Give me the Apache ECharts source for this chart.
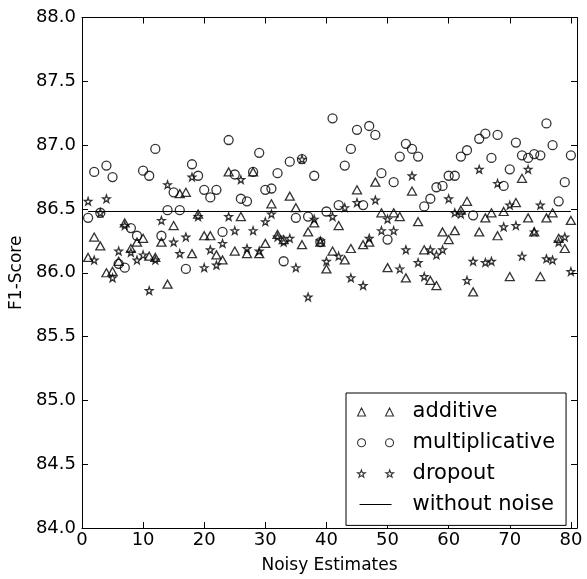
<!DOCTYPE html>
<html>
<head>
<meta charset="utf-8">
<script src="https://cdn.jsdelivr.net/npm/echarts@6/dist/echarts.min.js"></script>
<style>
html,body{margin:0;padding:0;background:#fff;}
#chart{width:587px;height:579px;}
</style>
</head>
<body>
<div id="chart"></div>
<script>
// Noisy estimate index runs 1..80
const additive = [
86.12,86.28,86.21,86.00,86.01,86.09,86.39,86.19,86.24,86.27,
86.13,86.12,86.24,85.91,86.37,86.62,86.63,86.15,86.46,86.29,
86.29,86.14,86.10,86.79,86.17,86.44,86.15,86.79,86.15,86.23,
86.54,86.30,86.26,86.60,86.51,86.22,86.32,86.39,86.24,86.03,
86.17,86.37,86.10,86.19,86.65,86.22,86.24,86.71,86.47,86.04,
86.47,86.44,85.96,86.64,86.40,86.18,85.94,85.90,86.32,86.26,
86.33,86.49,86.56,85.85,86.32,86.43,86.47,86.29,86.48,85.97,
86.55,86.74,86.43,86.32,85.97,86.43,86.47,86.27,86.19,86.41];
const multiplicative = [
86.43,86.79,86.47,86.84,86.75,86.07,86.04,86.35,86.29,86.80,
86.76,86.97,86.29,86.49,86.63,86.49,86.03,86.85,86.76,86.65,
86.59,86.65,86.32,87.04,86.77,86.58,86.56,86.79,86.94,86.65,
86.66,86.78,86.09,86.87,86.43,86.89,86.44,86.76,86.24,86.48,
87.21,86.53,86.84,86.97,87.12,86.53,87.15,87.08,86.78,86.26,
86.71,86.91,87.01,86.97,86.91,86.52,86.58,86.67,86.68,86.76,
86.76,86.91,86.96,86.45,87.05,87.09,86.90,87.08,86.68,86.81,
87.02,86.92,86.90,86.93,86.92,87.17,87.00,86.56,86.71,86.92];
const dropout = [
86.56,86.10,86.47,86.58,85.96,86.17,86.37,86.16,86.10,86.14,
85.86,86.10,86.41,86.69,86.24,86.15,86.28,86.75,86.44,86.04,
86.18,86.06,86.23,86.44,86.33,86.73,86.19,86.33,86.17,86.40,
86.46,86.28,86.24,86.27,86.04,86.89,85.81,86.42,86.25,86.09,
86.44,86.13,86.51,85.96,86.55,85.90,86.27,86.57,86.33,86.42,
86.33,86.03,86.18,86.76,86.08,85.97,86.18,86.14,86.18,86.58,
86.47,86.46,85.94,86.09,86.81,86.08,86.09,86.70,86.36,86.53,
86.37,86.13,86.81,86.32,86.53,86.11,86.10,86.24,86.28,86.01];
const withoutNoise = 86.48;
const seriesNames = ['additive','multiplicative','dropout','without noise'];
const xTicks = [0,10,20,30,40,50,60,70,80];
const yTicks = [84.0,84.5,85.0,85.5,86.0,86.5,87.0,87.5,88.0];

const toPts = arr => arr.map((v,i)=>[i+1, v]);
const FONT = 'DejaVu Sans';
const starPath = 'path://M50,0L61.8,33.8L97.6,34.5L69,56.2L79.4,90.5L50,70L20.6,90.5L31,56.2L2.4,34.5L38.2,33.8Z';
const legTri = 'path://M4,0L8,8L0,8Z M32,0L36,8L28,8Z';
const legCirc = 'path://M0,4a4,4 0 1,0 8,0a4,4 0 1,0 -8,0Z M28,4a4,4 0 1,0 8,0a4,4 0 1,0 -8,0Z';
const legStar = 'path://M4,0L4.94,2.7L7.81,2.76L5.52,4.5L6.35,7.24L4,5.6L1.65,7.24L2.48,4.5L0.19,2.76L3.06,2.7Z M32,0L32.94,2.7L35.81,2.76L33.52,4.5L34.35,7.24L32,5.6L29.65,7.24L30.48,4.5L28.19,2.76L31.06,2.7Z';
const legLine = 'path://M0,0L0.01,0L0,0.01Z M2,3.5L34,3.5L34,4.5L2,4.5Z M36,8L35.99,8L36,7.99Z';

const hollow = {color:'transparent', borderColor:'#000', borderWidth:1.3};
const axisCommon = {
  axisLine:{show:true, onZero:false, lineStyle:{color:'#000', width:1}},
  axisTick:{show:true, inside:true, length:6, lineStyle:{color:'#000', width:1}},
  splitLine:{show:false}
};
const xFmt = v => (xTicks.indexOf(v) >= 0 ? String(v) : '');
const yFmt = v => (yTicks.some(t => Math.abs(t - v) < 1e-9) ? v.toFixed(1) : '');

const chart = echarts.init(document.getElementById('chart'), null, {renderer:'canvas'});
chart.setOption({
  animation:false,
  backgroundColor:'#fff',
  textStyle:{fontFamily:FONT},
  grid:{left:80, right:10, top:17.5, bottom:43, containLabel:false},
  xAxis:[
    Object.assign({type:'value', min:0, max:81, interval:10, position:'bottom',
      name:'Noisy Estimates', nameLocation:'middle', nameGap:29,
      nameTextStyle:{fontFamily:FONT, fontSize:17, color:'#000'},
      axisLabel:{fontFamily:FONT, fontSize:18, color:'#000', margin:3, formatter:xFmt}}, axisCommon),
    Object.assign({type:'value', min:0, max:81, interval:10, position:'top',
      axisLabel:{show:false}}, axisCommon)
  ],
  yAxis:[
    Object.assign({type:'value', min:84, max:88, interval:0.5, position:'left',
      name:'F1-Score', nameLocation:'middle', nameGap:49,
      nameTextStyle:{fontFamily:FONT, fontSize:17, color:'#000'},
      axisLabel:{fontFamily:FONT, fontSize:18, color:'#000', margin:6, formatter:yFmt}}, axisCommon),
    Object.assign({type:'value', min:84, max:88, interval:0.5, position:'right',
      axisLabel:{show:false}}, axisCommon)
  ],
  legend:{
    orient:'vertical', left:346, top:393,
    padding:[8,11,10,11],
    itemWidth:36, itemHeight:8, itemGap:8.8,
    backgroundColor:'#fff', borderColor:'#000', borderWidth:1, borderRadius:0,
    textStyle:{fontFamily:FONT, fontSize:21, color:'#000', lineHeight:22, padding:[0,0,0,14]},
    data:[
      {name:seriesNames[0], icon:legTri, itemStyle:{color:'transparent', borderColor:'#000', borderWidth:1.1}},
      {name:seriesNames[1], icon:legCirc, itemStyle:{color:'transparent', borderColor:'#000', borderWidth:1.1}},
      {name:seriesNames[2], icon:legStar, itemStyle:{color:'transparent', borderColor:'#000', borderWidth:1.1}},
      {name:seriesNames[3], icon:legLine, itemStyle:{color:'#000', borderWidth:0}}
    ]
  },
  series:[
    {name:seriesNames[0], type:'scatter', symbol:'triangle', symbolSize:[9,8],
      itemStyle:hollow, data:toPts(additive), z:2},
    {name:seriesNames[1], type:'scatter', symbol:'circle', symbolSize:9,
      itemStyle:hollow, data:toPts(multiplicative), z:2},
    {name:seriesNames[2], type:'scatter', symbol:starPath, symbolSize:7.5,
      itemStyle:hollow, data:toPts(dropout), z:2},
    {name:seriesNames[3], type:'line', symbol:'none', showSymbol:false,
      lineStyle:{color:'#000', width:1}, itemStyle:{color:'#000'},
      data:[[1, withoutNoise],[additive.length, withoutNoise]], z:3}
  ]
});
</script>
</body>
</html>
